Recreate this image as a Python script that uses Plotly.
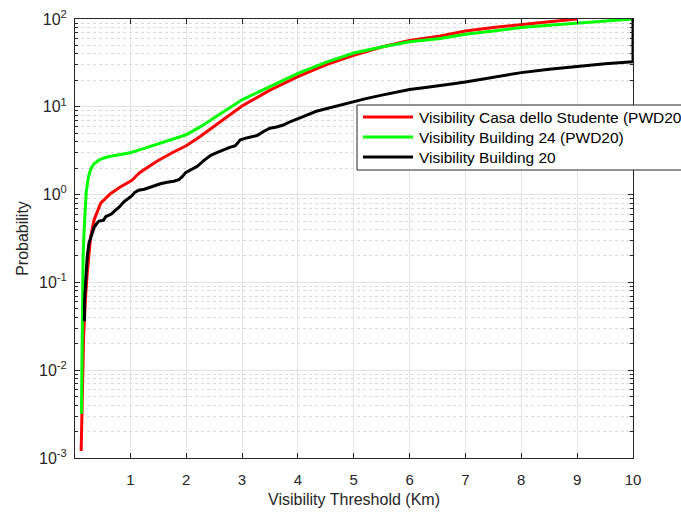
import plotly.graph_objects as go

# Visibility threshold (km) vs cumulative probability (%)
casa_x = [0.12, 0.13, 0.145, 0.165, 0.20, 0.23, 0.29, 0.35, 0.47, 0.65, 0.82, 1.03,
          1.10, 1.18, 1.36, 1.50, 1.75, 2.00, 2.25, 2.50, 2.78, 3.00, 3.50, 4.00,
          4.50, 5.00, 5.50, 6.00, 6.55, 7.00, 7.50, 8.00, 8.50, 9.00]
casa_y = [0.0012, 0.003, 0.01, 0.025, 0.07, 0.13, 0.33, 0.51, 0.80, 1.03, 1.22, 1.45,
          1.62, 1.80, 2.15, 2.45, 3.0, 3.6, 4.6, 6.0, 8.0, 10.2, 15.5, 22.0,
          30.0, 38.5, 48.0, 57.0, 64.0, 73.0, 80.0, 87.0, 93.0, 100.0]

b24_x = [0.125, 0.13, 0.135, 0.14, 0.155, 0.17, 0.19, 0.21, 0.25, 0.30, 0.35, 0.45,
         0.60, 0.80, 1.00, 1.18, 1.36, 1.54, 1.75, 2.00, 2.25, 2.50, 2.78, 3.00,
         3.50, 4.00, 4.50, 5.00, 5.50, 6.00, 6.55, 7.00, 7.50, 8.00, 8.50, 9.00,
         9.50, 10.00]
b24_y = [0.0032, 0.01, 0.03, 0.08, 0.2, 0.35, 0.65, 1.05, 1.6, 2.0, 2.25, 2.5,
         2.7, 2.85, 3.0, 3.25, 3.55, 3.9, 4.3, 4.8, 5.9, 7.5, 9.7, 12.0,
         17.0, 24.0, 32.0, 41.0, 48.0, 55.0, 60.0, 67.0, 73.0, 80.0, 85.0, 90.0,
         95.0, 100.0]

b20_x = [0.18, 0.18, 0.20, 0.22, 0.23, 0.26, 0.30, 0.35, 0.40, 0.44, 0.52, 0.56,
         0.61, 0.66, 0.73, 0.80, 0.88, 0.95, 1.03, 1.08, 1.15, 1.25, 1.36, 1.45,
         1.54, 1.66, 1.78, 1.87, 1.93, 1.99, 2.10, 2.20, 2.32, 2.44, 2.55, 2.67,
         2.78, 2.88, 2.97, 3.10, 3.27, 3.40, 3.50, 3.62, 3.74, 3.87, 4.00, 4.15,
         4.33, 4.50, 4.70, 4.85, 5.00, 5.20, 5.46, 5.70, 6.00, 6.25, 6.50, 6.75,
         7.00, 7.25, 7.45, 7.70, 8.00, 8.50, 9.00, 9.50, 10.00, 10.00]
b20_y = [0.036, 0.06, 0.10, 0.16, 0.20, 0.28, 0.33, 0.42, 0.47, 0.50, 0.51, 0.56,
         0.58, 0.60, 0.66, 0.72, 0.82, 0.88, 0.97, 1.06, 1.12, 1.15, 1.22, 1.27,
         1.33, 1.38, 1.42, 1.48, 1.60, 1.78, 1.95, 2.10, 2.45, 2.80, 3.00, 3.25,
         3.45, 3.60, 4.20, 4.45, 4.70, 5.30, 5.70, 5.90, 6.20, 6.80, 7.40, 8.00,
         8.90, 9.50, 10.3, 10.8, 11.5, 12.3, 13.4, 14.5, 15.7, 16.5, 17.2, 18.2,
         19.2, 20.4, 21.2, 22.8, 24.5, 26.8, 29.0, 31.0, 32.5, 100.0]

series_names = ["Visibility Casa dello Studente (PWD20)",
                "Visibility Building 24 (PWD20)",
                "Visibility Building 20"]
series_colors = ["#ff0000", "#00ff00", "#000000"]
series_data = [(casa_x, casa_y), (b24_x, b24_y), (b20_x, b20_y)]

x_ticks = list(range(1, 11))
y_major = [1e-3, 1e-2, 1e-1, 1e0, 1e1, 1e2]
y_major_text = ["10<sup>-3</sup>", "10<sup>-2</sup>", "10<sup>-1</sup>",
                "10<sup>0</sup>", "10<sup>1</sup>", "10<sup>2</sup>"]
y_minor = [m * d for d in [1e-3, 1e-2, 1e-1, 1e0, 1e1] for m in range(2, 10)]

FONT = "Liberation Sans, Arial, Helvetica, sans-serif"
AX = "#262626"

# figure geometry (pixels)
W, H = 681, 512
ML, MR, MT, MB = 75, 48, 19, 54
PW, PH = W - ML - MR, H - MT - MB


def px_to_paper(px, py):
    return (px - ML) / PW, (H - MB - py) / PH


fig = go.Figure()
for name, (xs, ys), col in zip(series_names, series_data, series_colors):
    fig.add_trace(go.Scatter(x=xs, y=ys, mode="lines", name=name,
                             line=dict(color=col, width=3), showlegend=False))

# legend box with line samples, placed in the upper right of the axes
box_l, box_t, box_r, box_b = 357, 105, 700, 170
row_y = [117, 137, 157]
x0, y0 = px_to_paper(box_l, box_b)
x1, y1 = px_to_paper(box_r, box_t)
shapes = [dict(type="rect", xref="paper", yref="paper", x0=x0, y0=y0, x1=x1, y1=y1,
               line=dict(color=AX, width=1), fillcolor="white", layer="above")]
annotations = []
for name, col, ry in zip(series_names, series_colors, row_y):
    lx0, ly = px_to_paper(363, ry)
    lx1, _ = px_to_paper(413, ry)
    shapes.append(dict(type="line", xref="paper", yref="paper", x0=lx0, x1=lx1,
                       y0=ly, y1=ly, line=dict(color=col, width=3), layer="above"))
    tx, _ = px_to_paper(417, ry)
    annotations.append(dict(xref="paper", yref="paper", x=tx, y=ly, text=name,
                            showarrow=False, xanchor="left", yanchor="middle",
                            font=dict(family=FONT, size=15.5, color="#000000")))

fig.update_layout(
    width=W, height=H,
    margin=dict(l=ML, r=MR, t=MT, b=MB, autoexpand=False),
    paper_bgcolor="white", plot_bgcolor="white",
    font=dict(family=FONT, size=15, color=AX),
    showlegend=False,
    shapes=shapes,
    annotations=annotations,
    xaxis=dict(
        range=[0.01, 10], tickmode="array", tickvals=x_ticks,
        ticks="inside", ticklen=5, tickcolor=AX, showline=True, linecolor=AX,
        linewidth=1, mirror="ticks", showgrid=True, gridcolor="#e3e3e3",
        gridwidth=1, zeroline=False, ticklabelstandoff=8,
        title=dict(text="Visibility Threshold (Km)", font=dict(size=16), standoff=6),
    ),
    yaxis=dict(
        type="log", range=[-3, 2], tickmode="array", tickvals=y_major,
        ticktext=y_major_text, ticks="inside", ticklen=5, tickcolor=AX,
        tickfont=dict(size=16),
        showline=True, linecolor=AX, linewidth=1, mirror="ticks",
        showgrid=True, gridcolor="#e3e3e3", gridwidth=1, zeroline=False,
        ticklabelstandoff=4,
        minor=dict(tickmode="array", tickvals=y_minor, ticks="inside", ticklen=3,
                   tickcolor=AX, showgrid=True, gridcolor="#d9d9d9",
                   griddash="dot", gridwidth=1),
        title=dict(text="Probability", font=dict(size=16), standoff=6),
    ),
)

fig.write_html("out.html")
